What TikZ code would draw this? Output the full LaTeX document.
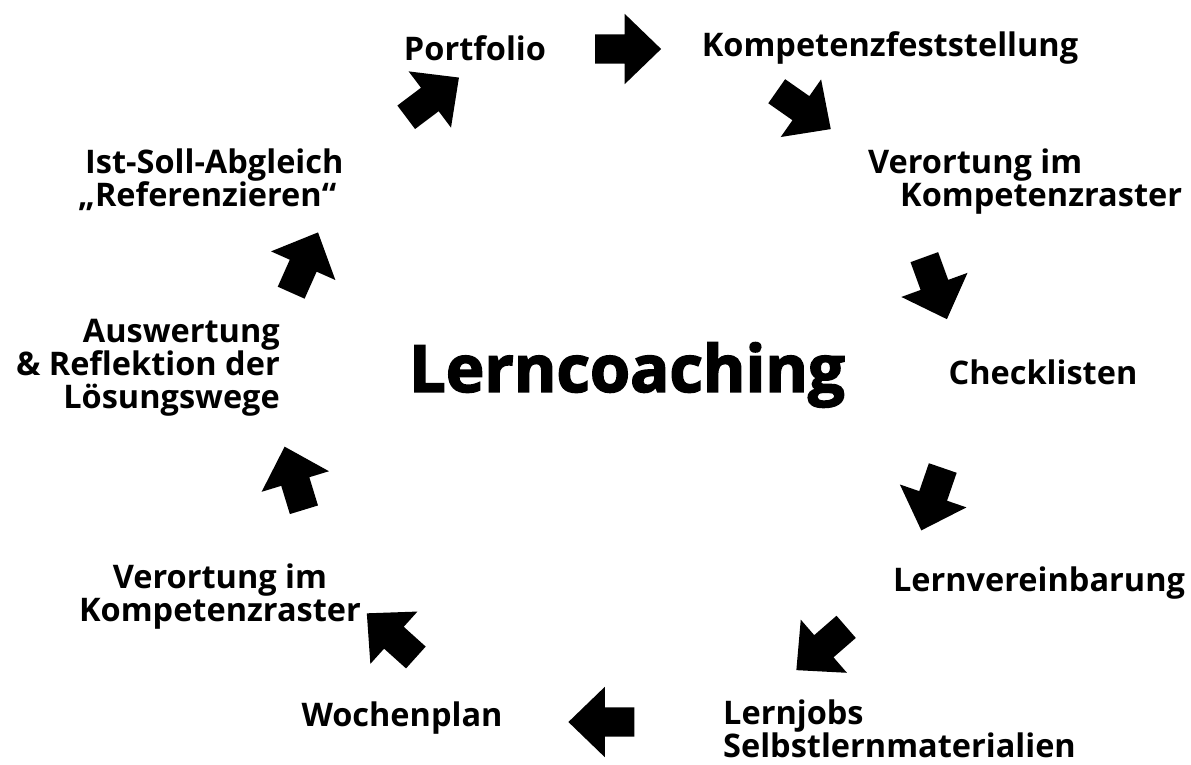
\documentclass[tikz,border=0pt]{standalone}
\usepackage{fontspec}
\setmainfont{Open Sans}[BoldFont=* Bold]
\newfontfamily\titlefont{Open Sans Bold}[FakeBold=2.5]
\usetikzlibrary{shapes.arrows}
\tikzset{
  blockarrow/.style={shape=single arrow, fill=black, draw=none,
    inner xsep=0pt, inner ysep=14.5pt, text height=0pt, text depth=0pt,
    single arrow head extend=20.5pt, single arrow tip angle=88,
    minimum height=66pt},
  lbl/.style={font=\fontsize{32.5}{33}\selectfont\bfseries, inner sep=0pt}
}
\begin{document}
\begin{tikzpicture}[x=1pt,y=-1pt]
\useasboundingbox (0,0) rectangle (1191,765);
% labels
\node[lbl] (portfolio) at (475,48) {Portfolio};
\node[lbl] (kompfest) at (890,48) {Kompetenzfeststellung};
\node[lbl, align=left, anchor=west] (verortR) at (868,182) {Verortung im\\\hspace*{32pt}Kompetenzraster};
\node[lbl] (check) at (1043,372) {Checklisten};
\node[lbl] (lernver) at (1039,583) {Lernvereinbarung};
\node[lbl, align=left, anchor=west] (lernjobs) at (723,729) {Lernjobs\\Selbstlernmaterialien};
\node[lbl] (woche) at (402,718) {Wochenplan};
\node[lbl, align=center] (verortL) at (220,597) {Verortung im\\Kompetenzraster};
\node[lbl, align=right, anchor=east] (ausw) at (280,368) {Auswertung\\\& Reflektion der\\Lösungswege};
\node[lbl, align=left, anchor=west] (istsoll) at (78,180) {\hspace*{7pt}Ist-Soll-Abgleich\\„Referenzieren“};
\node[inner sep=0pt, font=\fontsize{65}{70}\titlefont] (title) at (627,375) {Lerncoaching};
% arrows
\node[blockarrow, rotate=0] (a1) at (620.5,49) {};
\node[blockarrow, rotate=-35] (a2) at (797.5,105.8) {};
\node[blockarrow, rotate=-70] (a3) at (933,281) {};
\node[blockarrow, rotate=-109] (a4) at (934.5,492) {};
\node[blockarrow, rotate=-139] (a5) at (827,643.5) {};
\node[blockarrow, rotate=180] (a6) at (609,722) {};
\node[blockarrow, rotate=138] (a7) at (397,640.5) {};
\node[blockarrow, rotate=107] (a8) at (296.5,485.5) {};
\node[blockarrow, rotate=66] (a9) at (301.5,269.5) {};
\node[blockarrow, rotate=37] (a10) at (426.5,102) {};
\end{tikzpicture}
\end{document}
